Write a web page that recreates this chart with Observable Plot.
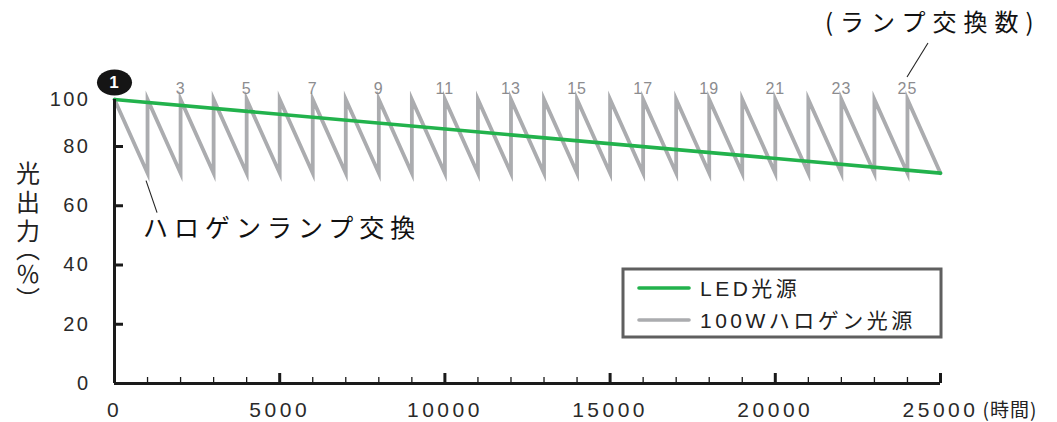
<!DOCTYPE html>
<html><head><meta charset="utf-8">
<script src="https://cdn.jsdelivr.net/npm/d3@7"></script>
<script src="https://cdn.jsdelivr.net/npm/@observablehq/plot@0.6"></script>
<style>
body{margin:0;background:#fff}
svg{display:block}
</style>
</head><body><div id="chart"></div>
<script>
// ---- data ----
const lampStartHours = [0,1000,2000,3000,4000,5000,6000,7000,8000,9000,10000,11000,12000,13000,14000,15000,16000,17000,18000,19000,20000,21000,22000,23000,24000];
const lampLifeHours = 1000;
const halogenStartPct = 100;
const halogenEndPct = 71;
const ledHours = [0, 25000];
const ledPct = [100, 71];
const labeledLamps = [3,5,7,9,11,13,15,17,19,21,23,25];
const firstLamp = [1];
const xMajorTicks = [0,5000,10000,15000,20000,25000];
const xMinorTicks = [1000,2000,3000,4000,6000,7000,8000,9000,11000,12000,13000,14000,16000,17000,18000,19000,21000,22000,23000,24000];
const yInnerTicks = [20,40,60,80];
const yTickLabels = [0,20,40,60,80,100];

const halogen = lampStartHours.flatMap(s => [
  {h: s, p: halogenStartPct},
  {h: s + lampLifeHours, p: halogenEndPct}
]);
const led = ledHours.map((h, i) => ({h, p: ledPct[i]}));

const latin = '"Liberation Sans", Arial, Helvetica, sans-serif';
const jp = '"Noto Sans CJK JP", "Noto Sans", sans-serif';

// ellipse symbol for lamp no.1 marker
const ellipse = {
  draw(ctx, size) {
    const r = Math.sqrt(size / Math.PI);
    const rx = r * 1.35, ry = r;
    const k = 0.5523;
    ctx.moveTo(rx, 0);
    ctx.bezierCurveTo(rx, ry * k, rx * k, ry, 0, ry);
    ctx.bezierCurveTo(-rx * k, ry, -rx, ry * k, -rx, 0);
    ctx.bezierCurveTo(-rx, -ry * k, -rx * k, -ry, 0, -ry);
    ctx.bezierCurveTo(rx * k, -ry, rx, -ry * k, rx, 0);
    ctx.closePath();
  }
};

const chart = Plot.plot({
  width: 1057,
  height: 422,
  marginLeft: 114,
  marginRight: 117,
  marginTop: 99,
  marginBottom: 39,
  x: {type: "linear", domain: [0, 25000], label: null},
  y: {type: "linear", domain: [0, 80, 100], range: [383, 146, 99], label: null},
  style: {fontFamily: latin, background: "white", color: "#222"},
  marks: [
    Plot.line(halogen, {x: "h", y: "p", stroke: "#abacaf", strokeWidth: 3.8, strokeLinejoin: "miter", strokeMiterlimit: 10}),
    Plot.line(led, {x: "h", y: "p", stroke: "#22b24c", strokeWidth: 3.6}),
    // axis lines
    Plot.ruleY([0], {x1: 0, x2: 25000, stroke: "#1a1a1a", strokeWidth: 3}),
    Plot.ruleX([0], {y1: 0, y2: 100, stroke: "#1a1a1a", strokeWidth: 3}),
    // inward ticks
    Plot.ruleX(xMajorTicks, {x: d => d, y1: 0, y2: 0, insetTop: -10, stroke: "#1a1a1a", strokeWidth: 3}),
    Plot.ruleX(xMinorTicks, {x: d => d, y1: 0, y2: 0, insetTop: -6, stroke: "#1a1a1a", strokeWidth: 1.3}),
    Plot.ruleY(yInnerTicks, {y: d => d, x1: 0, x2: 0, insetRight: -9, stroke: "#1a1a1a", strokeWidth: 3}),
    // tick labels
    Plot.axisX(xMajorTicks, {tickSize: 0, tickPadding: 19, fontSize: 21, tickFormat: d => String(d), fill: "#2a2a2a", label: null}),
    Plot.axisY(yTickLabels, {tickSize: 0, tickPadding: 24, fontSize: 20, tickFormat: d => String(d), fill: "#2a2a2a", label: null}),
    Plot.text(["(時間)"], {x: () => 25000, y: () => 0, dx: 42, dy: 27, text: d => d, textAnchor: "start", fontSize: 19, fontFamily: jp, fill: "#222"}),
    // lamp numbers
    Plot.text(labeledLamps, {x: d => (d - 1) * lampLifeHours, y: () => halogenStartPct, dy: -11, text: d => String(d), fill: "#8c8c8f", fontSize: 16}),
    Plot.dot(firstLamp, {x: d => (d - 1) * lampLifeHours, y: () => halogenStartPct, dy: -17, r: 13, symbol: ellipse, fill: "#151515"}),
    Plot.text(firstLamp, {x: d => (d - 1) * lampLifeHours, y: () => halogenStartPct, dy: -17, text: d => String(d), fill: "white", fontSize: 17, fontWeight: "bold"})
  ]
});

document.getElementById("chart").appendChild(chart);

const svg = d3.select(chart);
svg.selectAll('g[aria-label="x-axis tick label"] text').style("letter-spacing", "3.5px");
svg.selectAll('g[aria-label="y-axis tick label"] text').style("letter-spacing", "2.5px");
svg.selectAll('g[aria-label="text"] text').style("letter-spacing", "1px");

const xs = chart.scale("x"), ys = chart.scale("y");
const X = v => xs.apply(v), Y = v => ys.apply(v);

// y-axis title (vertical)
const yt = svg.append("text")
  .attr("x", 28).attr("y", 161)
  .attr("text-anchor", "start")
  .attr("font-family", jp).attr("font-size", 24).attr("fill", "#222")
  .style("writing-mode", "vertical-rl")
  .style("font-feature-settings", '"vpal"');
yt.append("tspan").style("letter-spacing", "5px").text("光出力");
yt.append("tspan").style("letter-spacing", "3px").text("（％）");

// annotation: halogen lamp replacement
svg.append("line")
  .attr("x1", X(lampLifeHours) - 1).attr("y1", Y(halogenEndPct) + 8)
  .attr("x2", X(lampLifeHours) + 10).attr("y2", Y(halogenEndPct) + 40)
  .attr("stroke", "#222").attr("stroke-width", 1.1);
svg.append("text")
  .attr("x", 143).attr("y", 237)
  .attr("text-anchor", "start")
  .attr("font-family", jp).attr("font-size", 25).attr("fill", "#111")
  .style("letter-spacing", "6px")
  .text("ハロゲンランプ交換");

// annotation: number of lamp replacements
svg.append("line")
  .attr("x1", 928).attr("y1", 43)
  .attr("x2", 907).attr("y2", 77)
  .attr("stroke", "#222").attr("stroke-width", 1.1);
svg.append("text")
  .attr("x", 825).attr("y", 31)
  .attr("text-anchor", "start")
  .attr("font-family", jp).attr("font-size", 24).attr("fill", "#111")
  .style("letter-spacing", "7px")
  .text("(ランプ交換数)");

// legend
const lg = svg.append("g");
lg.append("rect").attr("x", 623).attr("y", 269).attr("width", 318).attr("height", 68)
  .attr("fill", "white").attr("stroke", "#5f5f5f").attr("stroke-width", 3);
const items = [
  {label: "LED光源", color: "#22b24c", y: 288},
  {label: "100Wハロゲン光源", color: "#abacaf", y: 320}
];
items.forEach(it => {
  lg.append("line").attr("x1", 639).attr("x2", 689).attr("y1", it.y).attr("y2", it.y)
    .attr("stroke", it.color).attr("stroke-width", 3.6).attr("stroke-linecap", "round");
  lg.append("text").attr("x", 700).attr("y", it.y).attr("dy", "0.36em")
    .attr("text-anchor", "start")
    .attr("font-family", latin + ", " + jp).attr("font-size", 21).attr("fill", "#222")
    .style("letter-spacing", "3.5px")
    .text(it.label);
});
</script>
</body></html>
